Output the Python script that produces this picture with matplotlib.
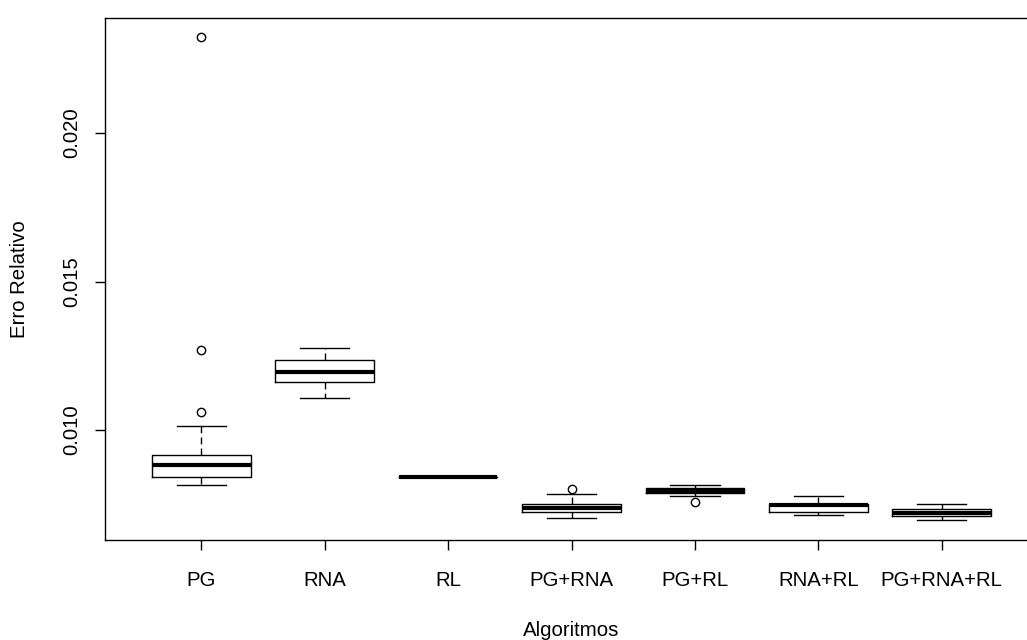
import matplotlib
matplotlib.use("Agg")
import matplotlib.pyplot as plt

plt.rcParams['font.family'] = ['Liberation Sans', 'DejaVu Sans']

# algoritmos e estatisticas (erro relativo)
algoritmos = ["PG", "RNA", "RL", "PG+RNA", "PG+RL", "RNA+RL", "PG+RNA+RL"]
whisker_lo = [0.00815, 0.01108, 0.00842, 0.00704, 0.00778, 0.00713, 0.00699]
q1 = [0.00842, 0.01162, 0.00842, 0.00724, 0.00788, 0.00725, 0.00711]
mediana = [0.00882, 0.01195, 0.00842, 0.00738, 0.00796, 0.00747, 0.00721]
q3 = [0.00916, 0.01236, 0.00842, 0.00751, 0.00804, 0.00752, 0.00734]
whisker_hi = [0.01013, 0.01276, 0.00842, 0.00785, 0.00815, 0.00778, 0.00752]
outliers = [[0.02323, 0.01269, 0.01061], [], [], [0.00801], [0.00758], [], []]

stats = []
for i, nome in enumerate(algoritmos):
    stats.append(dict(label=nome, whislo=whisker_lo[i], q1=q1[i], med=mediana[i],
                      q3=q3[i], whishi=whisker_hi[i], fliers=outliers[i]))

fig = plt.figure(figsize=(10.27, 6.4), dpi=100)
ax = fig.add_axes([105 / 1027, 100 / 640, (1038 - 105) / 1027, (540 - 18) / 640])

ax.bxp(stats, positions=range(1, 8), widths=0.8, patch_artist=False,
       boxprops=dict(color='black', linewidth=1.0),
       medianprops=dict(color='black', linewidth=3.0, solid_capstyle='butt'),
       whiskerprops=dict(color='black', linewidth=1.0, linestyle=(0, (5, 3))),
       capprops=dict(color='black', linewidth=1.0),
       capwidths=0.4,
       flierprops=dict(marker='o', markerfacecolor='none', markeredgecolor='black',
                       markersize=6, markeredgewidth=1.0))

ax.set_xlim(0.22, 7.78)
ax.set_ylim(0.0063, 0.02387)
ax.set_yticks([0.010, 0.015, 0.020])
ax.set_yticklabels(["0.010", "0.015", "0.020"], rotation=90, va='center')
ax.set_xticks(range(1, 8))
ax.set_xticklabels(algoritmos)
ax.tick_params(axis='both', direction='out', length=7, width=1, labelsize=14.7)
ax.tick_params(axis='y', pad=10)
ax.tick_params(axis='x', pad=15)
for s in ax.spines.values():
    s.set_linewidth(1.0)

ax.set_xlabel("Algoritmos", fontsize=14.7, va='center')
ax.set_ylabel("Erro Relativo", fontsize=14.7, va='center')
ax.xaxis.set_label_coords(0.5, (540 - 630) / 522)
ax.yaxis.set_label_coords((20 - 105) / 933, 0.5)

fig.savefig("out.png", dpi=100)
